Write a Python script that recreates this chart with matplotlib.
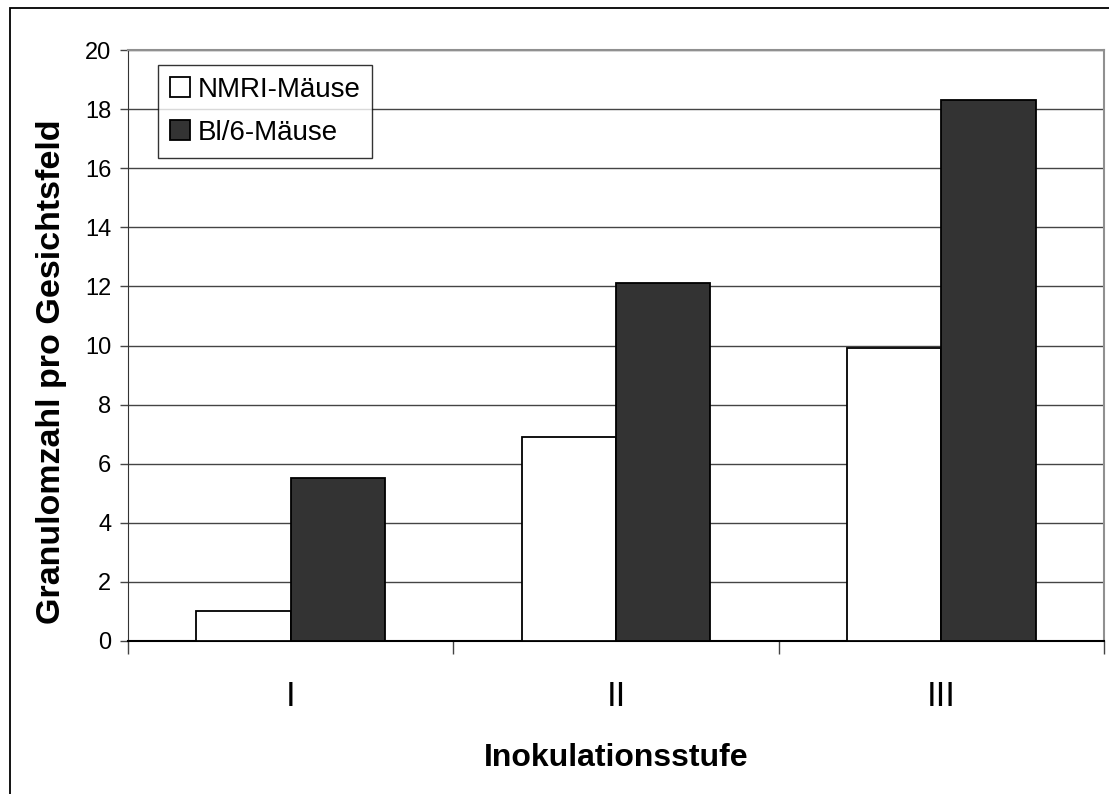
import matplotlib
matplotlib.use("Agg")
import matplotlib.pyplot as plt
import numpy as np
from matplotlib.patches import Rectangle

plt.rcParams['font.family'] = ['Liberation Sans', 'DejaVu Sans']

stufen = ["I", "II", "III"]
nmri = [1.0, 6.9, 9.9]
bl6 = [5.5, 12.1, 18.3]
serien = ["NMRI-Mäuse", "Bl/6-Mäuse"]

fig = plt.figure(figsize=(11.09, 7.94), dpi=100)
ax = fig.add_axes([0.1154, 0.1927, 0.8801, 0.7443])

# Rahmen um das ganze Diagramm (rechts und unten abgeschnitten)
fig.add_artist(Rectangle((10 / 1109, -0.2), 1.3, 1.2 - 8 / 794,
                         transform=fig.transFigure, fill=False,
                         edgecolor="black", linewidth=1.3))

x = np.arange(len(stufen))
w = 0.29
ax.bar(x - w / 2, nmri, w, color="white", edgecolor="black", linewidth=1.3,
       label=serien[0], zorder=3)
ax.bar(x + w / 2, bl6, w, color="#333333", edgecolor="black", linewidth=1.3,
       label=serien[1], zorder=3)

ax.set_xlim(-0.5, 2.5)
ax.set_ylim(0, 20)
ax.set_yticks(np.arange(0, 21, 2))
ax.yaxis.grid(True, color="#444444", linewidth=1.0, zorder=0)
ax.tick_params(axis="y", direction="out", length=6, width=1, color="#444444",
               labelsize=17, pad=6)

ax.set_xticks(x)
ax.set_xticklabels(stufen, fontsize=25)
ax.tick_params(axis="x", length=0, pad=28)
ax.set_xticks([-0.5, 0.5, 1.5, 2.5], minor=True)
ax.tick_params(axis="x", which="minor", direction="out", length=9, width=1,
               color="#444444")

for s in ["top", "right"]:
    ax.spines[s].set_color("#909090")
    ax.spines[s].set_linewidth(1.5)
ax.spines["left"].set_color("#333333")
ax.spines["bottom"].set_color("black")
ax.spines["bottom"].set_linewidth(1.5)

ax.set_ylabel("Granulomzahl pro Gesichtsfeld", fontsize=24.5, fontweight="bold")
ax.yaxis.set_label_coords(-0.062, 0.455)
ax.set_xlabel("Inokulationsstufe", fontsize=23, fontweight="bold", labelpad=22)

leg = ax.legend(loc="upper left", bbox_to_anchor=(0.0307, 0.9746), fontsize=20,
                frameon=True, fancybox=False, shadow=False, borderpad=0.42,
                handlelength=0.72, handleheight=0.72, handletextpad=0.3,
                labelspacing=0.62, borderaxespad=0)
leg.get_frame().set_edgecolor("black")
leg.get_frame().set_linewidth(1.0)

fig.savefig("out.png", dpi=100)
